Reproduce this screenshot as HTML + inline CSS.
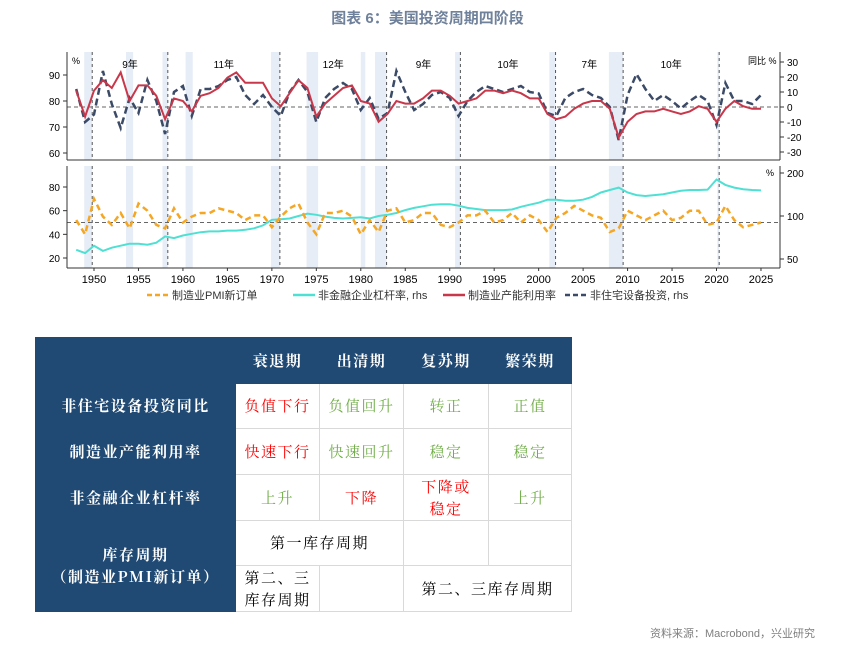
<!DOCTYPE html>
<html><head><meta charset="utf-8"><style>
body{margin:0;width:855px;height:646px;background:#fff;font-family:"Liberation Sans","Noto Sans CJK SC",sans-serif;position:relative;overflow:hidden}
#title{position:absolute;left:0;width:855px;top:7px;text-align:center;font-size:15px;font-weight:bold;color:#6f819b}
#src{position:absolute;right:40px;top:625px;font-size:11px;color:#7f7f7f}
table{position:absolute;left:35px;top:337px;border-collapse:collapse;font-family:"Noto Serif CJK SC","Liberation Serif",serif;font-size:15px;letter-spacing:1.5px}
td{border:1px solid #d9d9d9;text-align:center;padding:0;line-height:22px}
td.h{background:#204a74;color:#fff;font-weight:bold;border-color:#204a74}
.r{color:#ff0000}.g{color:#70ad47}
</style></head><body>
<div id="title">图表 6：美国投资周期四阶段</div>
<svg id="ch" width="855" height="310" style="position:absolute;left:0;top:0"></svg>
<table>
<tr style="height:46px"><td class="h" style="width:199px"></td><td class="h" style="width:83px">衰退期</td><td class="h" style="width:83px">出清期</td><td class="h" style="width:84px">复苏期</td><td class="h" style="width:82px">繁荣期</td></tr>
<tr style="height:45px"><td class="h">非住宅设备投资同比</td><td class="r">负值下行</td><td class="g">负值回升</td><td class="g">转正</td><td class="g">正值</td></tr>
<tr style="height:46px"><td class="h">制造业产能利用率</td><td class="r">快速下行</td><td class="g">快速回升</td><td class="g">稳定</td><td class="g">稳定</td></tr>
<tr style="height:46px"><td class="h">非金融企业杠杆率</td><td class="g">上升</td><td class="r">下降</td><td class="r">下降或<br>稳定</td><td class="g">上升</td></tr>
<tr style="height:45px"><td class="h" rowspan="2">库存周期<br>（制造业PMI新订单）</td><td colspan="2">第一库存周期</td><td></td><td></td></tr>
<tr style="height:46px"><td>第二、三<br>库存周期</td><td></td><td colspan="2">第二、三库存周期</td></tr>
</table>
<div id="src">资料来源：Macrobond，兴业研究</div>
<script>
const years=[];for(let y=1948;y<=2025;y++)years.push(y);
const capUtil=[84,74,84,88,85,91,80,86,86,82,73,81,80,76,82,83,85,89,91,87,87,87,81,78,83,88,85,74,79,82,85,86,80,79,72,75,80,79,79,81,84,84,82,79,80,81,84,84,83,84,83,81,81,75,73,74,77,79,80,80,77,66,72,75,76,76,77,76,75,76,78,77,72,77,80,78,77,77];
const invYoy=[12,-10,-5,24,2,-14,6,-4,18,4,-18,10,14,-6,12,12,14,18,20,8,2,8,0,-6,10,18,10,-10,6,12,16,12,-2,6,-8,-4,24,10,-2,2,8,10,6,-6,4,10,14,12,10,12,14,10,9,-4,-6,6,10,12,8,6,0,-22,8,22,12,4,8,4,-1,4,8,4,-12,16,4,4,2,8];
const pmi=[52,40,70,55,48,58,45,66,60,48,45,62,50,55,58,58,62,60,58,52,56,56,46,55,62,66,50,40,58,58,60,55,40,52,42,60,62,50,52,58,58,48,46,50,56,56,60,50,52,58,50,56,52,42,54,58,64,60,56,54,42,45,60,56,52,56,60,52,54,60,60,48,50,64,52,46,48,50];
const leverage=[58,55,62,57,60,62,64,64,63,65,72,70,73,75,77,78,78,79,79,80,82,86,94,95,96,100,104,102,99,97,96,97,98,96,100,102,105,110,114,117,120,121,121,118,114,112,110,110,110,111,116,120,124,130,130,128,128,130,136,146,152,158,146,140,138,140,142,146,150,152,152,153,180,165,158,154,152,151];
const recessions=[[1948.9,1949.8],[1953.6,1954.4],[1957.7,1958.3],[1960.3,1961.1],[1969.9,1970.9],[1973.9,1975.2],[1980.0,1980.5],[1981.6,1982.9],[1990.6,1991.2],[2001.2,2001.9],[2007.9,2009.5],[2020.1,2020.3]];
const cycleMarks=[1949.8,1958.3,1970.9,1982.9,1991.2,2001.9,2009.5,2020.3];
const cycleLabels=["9年","11年","12年","9年","10年","7年","10年"];
const xTicks=[1950,1955,1960,1965,1970,1975,1980,1985,1990,1995,2000,2005,2010,2015,2020,2025];
const topLeftTicks=[60,70,80,90];
const topRightTicks=[-30,-20,-10,0,10,20,30];
const botLeftTicks=[20,40,60,80];
const botRightTicks=[50,100,200];

const svg=document.getElementById('ch');const NS='http://www.w3.org/2000/svg';
function mk(t,a,p){const e=document.createElementNS(NS,t);for(const k in a)e.setAttribute(k,a[k]);(p||svg).appendChild(e);return e;}
const X=t=>94+(t-1950)*8.893;
const L=67,R=780,T1=52,B1=160,T2=166,B2=268;
const yTL=v=>101-(v-80)*2.6;
const yTR=v=>107-v*1.5;
const yBL=v=>258-(v-20)*71/60;
const yBR=v=>216-Math.log2(v/100)*43;
function txt(s,x,y,o){const e=mk('text',Object.assign({x:x,y:y,'font-size':10,fill:'#000'},o||{}));e.textContent=s;return e;}
recessions.forEach(r=>{[[T1,B1],[T2,B2]].forEach(p=>{const e=mk('rect',{x:X(r[0]),y:p[0],width:X(r[1])-X(r[0]),height:p[1]-p[0],fill:'#e6edf6'});

});});
cycleMarks.forEach(c=>{[[T1,B1],[T2,B2]].forEach(p=>{const e=mk('line',{x1:X(c),x2:X(c),y1:p[0],y2:p[1],stroke:'#555','stroke-dasharray':'3,3','stroke-width':1});

});});
cycleLabels.forEach((s,i)=>{const e=txt(s,(X(cycleMarks[i])+X(cycleMarks[i+1]))/2,68,{'text-anchor':'middle'});

});
mk('line',{x1:L,x2:R,y1:yTR(0),y2:yTR(0),stroke:'#666','stroke-dasharray':'4,3'});
mk('line',{x1:L,x2:R,y1:yBL(50),y2:yBL(50),stroke:'#666','stroke-dasharray':'4,3'});
function path(vals,xf,yf,attrs,name){const d=vals.map((v,i)=>(i?'L':'M')+xf(years[i]).toFixed(1)+','+yf(v).toFixed(1)).join('');const e=mk('path',Object.assign({d:d,fill:'none'},attrs));

}
path(invYoy,X,yTR,{stroke:'#3b4a66','stroke-width':2.5,'stroke-dasharray':'7,4'},'investment-yoy-line');
path(capUtil,X,yTL,{stroke:'#c8374a','stroke-width':2},'capacity-utilization-line');
path(leverage,X,yBR,{stroke:'#4fe0d4','stroke-width':2},'leverage-line');
path(pmi,X,yBL,{stroke:'#f5a623','stroke-width':2.5,'stroke-dasharray':'6,4'},'pmi-new-orders-line');
[[T1,B1],[T2,B2]].forEach(p=>{mk('line',{x1:L,x2:L,y1:p[0],y2:p[1],stroke:'#333'});mk('line',{x1:R,x2:R,y1:p[0],y2:p[1],stroke:'#333'});mk('line',{x1:L,x2:R,y1:p[1],y2:p[1],stroke:'#333'});});
topLeftTicks.forEach(v=>{mk('line',{x1:L-4,x2:L,y1:yTL(v),y2:yTL(v),stroke:'#333'});txt(v,L-7,yTL(v)+4,{'text-anchor':'end'});});
topRightTicks.forEach(v=>{mk('line',{x1:R,x2:R+4,y1:yTR(v),y2:yTR(v),stroke:'#333'});txt(v,R+7,yTR(v)+4);});
botLeftTicks.forEach(v=>{mk('line',{x1:L-4,x2:L,y1:yBL(v),y2:yBL(v),stroke:'#333'});txt(v,L-7,yBL(v)+4,{'text-anchor':'end'});});
botRightTicks.forEach(v=>{mk('line',{x1:R,x2:R+4,y1:yBR(v),y2:yBR(v),stroke:'#333'});txt(v,R+7,yBR(v)+4);});
xTicks.forEach(v=>{mk('line',{x1:X(v),x2:X(v),y1:B2,y2:B2+3,stroke:'#333'});const e=txt(v,X(v),283,{'text-anchor':'middle','font-size':11});

});
txt('%',72,64,{'font-size':9});txt('同比 %',748,64,{'font-size':9});txt('%',766,176,{'font-size':9});
const leg=[['制造业PMI新订单','#f5a623','5,3',147],['非金融企业杠杆率, rhs','#4fe0d4','',293],['制造业产能利用率','#c8374a','',443],['非住宅设备投资, rhs','#3b4a66','5,3',565]];
leg.forEach(l=>{const g=mk('g',{});


mk('line',{x1:l[3],x2:l[3]+22,y1:295,y2:295,stroke:l[1],'stroke-width':2.5,'stroke-dasharray':l[2]},g);
const t=mk('text',{x:l[3]+25,y:299,'font-size':11,fill:'#333'},g);t.textContent=l[0];});
</script>
</body></html>
